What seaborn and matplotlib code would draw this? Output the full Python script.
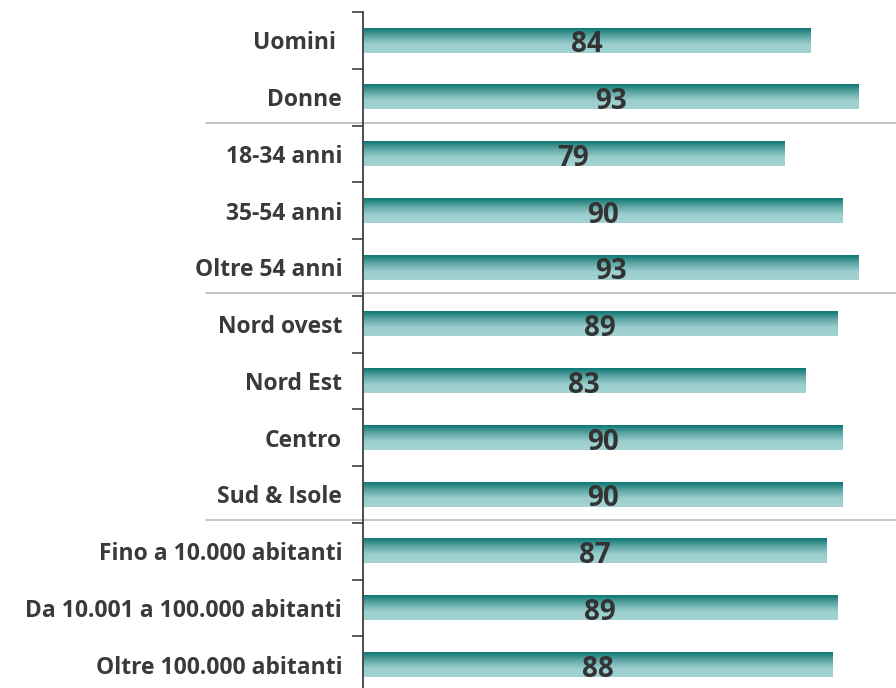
import matplotlib
matplotlib.use("Agg")
import matplotlib.pyplot as plt
import seaborn as sns
import numpy as np
import pandas as pd
from matplotlib.colors import LinearSegmentedColormap

categories = ["Uomini ", "Donne", "18-34 anni", "35-54 anni", "Oltre 54 anni",
              "Nord ovest", "Nord Est", "Centro", "Sud & Isole",
              "Fino a 10.000 abitanti", "Da 10.001 a 100.000 abitanti",
              "Oltre 100.000 abitanti"]
values = [84, 93, 79, 90, 93, 89, 83, 90, 90, 87, 89, 88]
# group separators sit after these category indices
group_breaks = [1, 4, 8]

df = pd.DataFrame({"categoria": categories, "valore": values})

sns.set_style("white")
plt.rcParams["font.family"] = ["Open Sans", "DejaVu Sans"]

fig = plt.figure(figsize=(8.96, 6.88), dpi=100)
ax = fig.add_axes([363 / 896, -5 / 688, 533 / 896, 681 / 688])

sns.barplot(data=df, x="valore", y="categoria", orient="h", width=0.43,
            color="#4aa3a1", ax=ax)

# vertical gradient: dark teal on top, pale at bottom
cmap = LinearSegmentedColormap.from_list("teal", ["#0e7774", "#5fa8a6", "#9dcfcf", "#a3d3d3"])
grad = np.linspace(0, 1, 64).reshape(-1, 1)
for bar in ax.patches:
    x0, y0 = bar.get_x(), bar.get_y()
    w, h = bar.get_width(), bar.get_height()
    bar.set_visible(False)
    ax.imshow(grad, cmap=cmap, aspect="auto", interpolation="bilinear",
              extent=[x0, x0 + w, y0 + h, y0], zorder=2)

for i, v in enumerate(values):
    ax.text(v / 2, i + 0.08, str(v), ha="center", va="center",
            fontsize=20, fontweight="bold", color="#333333", zorder=3)

ax.set_xlim(0, 100)
ax.set_ylim(len(categories) - 0.5, -0.5)
ax.set_xlabel("")
ax.set_ylabel("")
ax.set_xticks([])

ax.set_yticks(np.arange(len(categories)))
ax.set_yticklabels(categories, fontsize=16.5, fontweight="bold", color="#3a3a3a")
ax.set_yticks(np.arange(len(categories) + 1) - 0.5, minor=True)
ax.tick_params(axis="y", which="major", left=False, length=0, pad=15)
ax.tick_params(axis="y", which="minor", left=True, length=8, width=1.2, color="#404040")

for s in ["top", "right", "bottom"]:
    ax.spines[s].set_visible(False)
ax.spines["left"].set_color("#404040")
ax.spines["left"].set_linewidth(1.3)

# thin grey lines between groups, reaching into the label area
for b in group_breaks:
    ax.plot([-0.295, 1.0], [b + 0.45, b + 0.45], transform=ax.get_yaxis_transform(),
            color="#c0c0c0", lw=1.3, clip_on=False, zorder=1)

fig.savefig("out.png", dpi=100)
